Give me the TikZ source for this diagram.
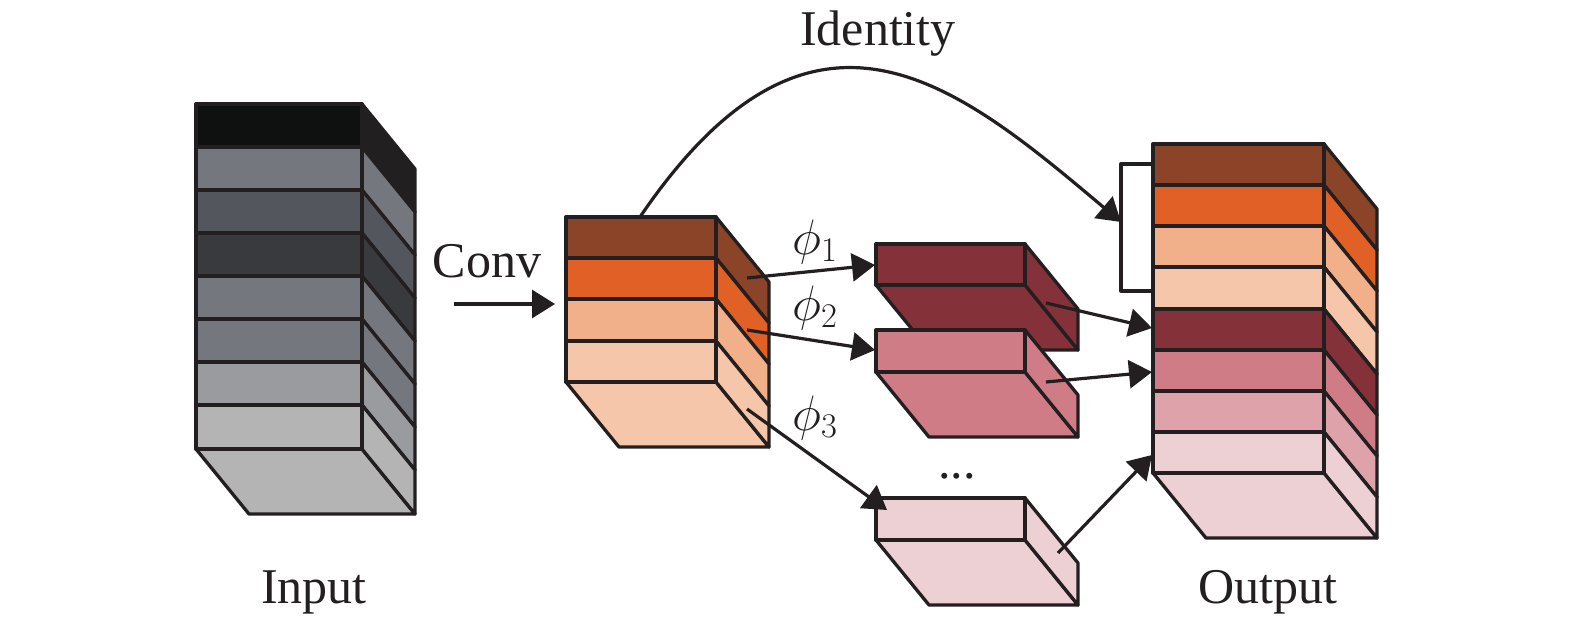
\documentclass[tikz,border=0pt]{standalone}
\usepackage{fontspec}
\setmainfont{Liberation Serif}
\usetikzlibrary{arrows.meta}
\definecolor{ink}{HTML}{231F20}
\definecolor{gblack}{HTML}{0F1110}
\definecolor{gblacks}{HTML}{221F20}
\definecolor{gmid}{HTML}{75777E}
\definecolor{gdark}{HTML}{53565D}
\definecolor{gdarker}{HTML}{393A3E}
\definecolor{glight}{HTML}{9A9B9F}
\definecolor{glighter}{HTML}{B4B4B4}
\definecolor{obrown}{HTML}{8B4428}
\definecolor{oorange}{HTML}{E06026}
\definecolor{olight}{HTML}{F2B08A}
\definecolor{opeach}{HTML}{F5C6A9}
\definecolor{rdark}{HTML}{84313A}
\definecolor{rpink}{HTML}{CF7C86}
\definecolor{rlight}{HTML}{DEA3AA}
\definecolor{rpale}{HTML}{EDD0D3}
\def\cdx{53}
\def\cdy{65}
% bottom face: x1, x2, y, colour
\newcommand\bface[4]{\filldraw[blk, fill=#4] (#1,#3) -- (#2,#3) -- ++(\cdx,\cdy) -- ++({#1-#2},0) -- cycle;}
% layer: x1, x2, ytop, ybottom, front colour, side colour
\newcommand\blayer[6]{%
  \filldraw[blk, fill=#6] (#2,#3) -- ++(\cdx,\cdy) -- ++(0,{#4-#3}) -- (#2,#4) -- cycle;
  \filldraw[blk, fill=#5] (#1,#3) rectangle (#2,#4);}
\begin{document}
\begin{tikzpicture}[x=0.5pt,y=-0.5pt, line join=round,
  blk/.style={draw=ink, line width=1.65pt},
  arr/.style={draw=ink, line width=1.6pt, -{Triangle[length=11.5pt,width=14pt]}},
  lbl/.style={font=\fontsize{25}{30}\selectfont, text=ink, inner sep=0pt, anchor=base},
  phil/.style={font=\fontsize{25}{30}\selectfont, text=ink, inner sep=0pt}]
\fill[white] (0,0) rectangle (1575,621);
\useasboundingbox (0,0) rectangle (1575,621);

% ---------- Input block ----------
\bface{196}{362}{449}{glighter}
\foreach \ya/\yb/\cf/\cs in {104/147/gblack/gblacks, 147/190/gmid/gmid, 190/233/gdark/gdark,
   233/276/gdarker/gdarker, 276/319/gmid/gmid, 319/362/gmid/gmid, 362/405/glight/glight,
   405/449/glighter/glighter}{\blayer{196}{362}{\ya}{\yb}{\cf}{\cs}}

% ---------- Conv block ----------
\bface{566}{716}{382}{opeach}
\foreach \ya/\yb/\cf in {217/258/obrown, 258/299/oorange, 299/341/olight, 341/382/opeach}
  {\blayer{566}{716}{\ya}{\yb}{\cf}{\cf}}

% ---------- middle slabs ----------
\bface{876}{1025}{285}{rdark}
\blayer{876}{1025}{244}{285}{rdark}{rdark}
\bface{876}{1025}{372}{rpink}
\blayer{876}{1025}{330}{372}{rpink}{rpink}
\bface{876}{1025}{540}{rpale}
\blayer{876}{1025}{498}{540}{rpale}{rpale}

% ---------- Output block ----------
\bface{1153}{1324}{473}{rpale}
\foreach \ya/\yb/\cf in {144/185/obrown, 185/226/oorange, 226/267/olight, 267/309/opeach,
   309/350/rdark, 350/391/rpink, 391/432/rlight, 432/473/rpale}
  {\blayer{1153}{1324}{\ya}{\yb}{\cf}{\cf}}

% bracket
\coordinate (brT) at (1153,164);
\coordinate (brB) at (1153,291);
\draw[blk] (brT) -- (1121,164) coordinate (brTL) -- (1121,291) coordinate (brBL) -- (brB);

% ---------- labels ----------
\node[lbl] (tin) at (314,603) {Input};
\node[lbl] (tout) at (1268,603) {Output};
\node[lbl] (tid) at (878,45) {Identity};
\node[lbl] (tconv) at (487,277) {Conv};
\node[phil] (p1) at (815,242) {$\phi_1$};
\node[phil] (p2) at (815,308) {$\phi_2$};
\node[phil] (p3) at (815,418) {$\phi_3$};
\node[lbl] (dots) at (957,478) {...};

% ---------- connectors ----------
\coordinate (convS) at (454,304);  \coordinate (convE) at (555,304);
\coordinate (p1s) at (747,278);    \coordinate (p1e) at (875,265);
\coordinate (p2s) at (747,330);    \coordinate (p2e) at (875,350);
\coordinate (p3s) at (747,409);    \coordinate (p3e) at (887,510);
\coordinate (o1s) at (1046,303);   \coordinate (o1e) at (1152,328);
\coordinate (o2s) at (1046,382);   \coordinate (o2e) at (1152,372);
\coordinate (o3s) at (1058,553);   \coordinate (o3e) at (1152,455);
\coordinate (idS) at (640,217);    \coordinate (idE) at (1121,222);

\draw[arr] (convS) -- (convE);
\draw[arr] (p1s) -- (p1e);
\draw[arr] (p2s) -- (p2e);
\draw[arr] (p3s) -- (p3e);
\draw[arr] (o1s) -- (o1e);
\draw[arr] (o2s) -- (o2e);
\draw[arr] (o3s) -- (o3e);
\draw[arr] (idS) .. controls (812,-36) and (955,82) .. (idE);
\end{tikzpicture}
\end{document}
